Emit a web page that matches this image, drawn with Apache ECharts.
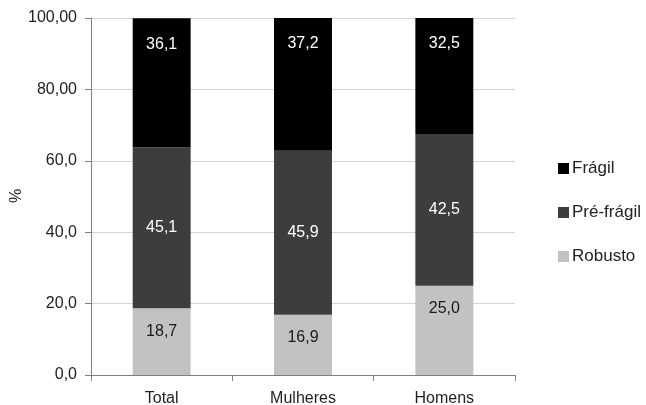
<!DOCTYPE html>
<html>
<head>
<meta charset="utf-8">
<script src="https://cdn.jsdelivr.net/npm/echarts@6/dist/echarts.min.js"></script>
<style>
  html, body { margin: 0; padding: 0; background: #fff; }
  #main { width: 646px; height: 405px; }
</style>
</head>
<body>
<div id="main"></div>
<script>
// dados do gráfico
var categories = ['Total', 'Mulheres', 'Homens'];
var robusto = [18.7, 16.9, 25.0];
var preFragil = [45.1, 45.9, 42.5];
var fragil = [36.1, 37.2, 32.5];
var yTickLabels = ['0,0', '20,0', '40,0', '60,0', '80,00', '100,00'];

var font = '"Liberation Sans", Arial, sans-serif';

function fmt(v) {
  return v.toFixed(1).replace('.', ',');
}

function serie(name, data, color, textColor, pos, dist) {
  return {
    name: name,
    type: 'bar',
    stack: 'total',
    barWidth: '41%',
    data: data,
    itemStyle: { color: color },
    label: {
      show: true,
      position: pos,
      distance: dist,
      color: textColor,
      fontFamily: font,
      fontSize: 16,
      formatter: function (p) { return fmt(p.value); }
    }
  };
}

var chart = echarts.init(document.getElementById('main'));
chart.setOption({
  animation: false,
  textStyle: { fontFamily: font },
  grid: { left: 91, right: 131, top: 18, bottom: 30, outerBoundsMode: 'none' },
  // título do eixo y (%)
  graphic: [{
    type: 'text',
    x: 17,
    y: 196,
    rotation: Math.PI / 2,
    style: {
      text: '%',
      fontSize: 16,
      fontFamily: font,
      fill: '#222',
      align: 'center',
      verticalAlign: 'middle'
    }
  }],
  legend: {
    orient: 'vertical',
    left: 553,
    top: 155,
    itemWidth: 11,
    itemHeight: 11,
    itemGap: 27,
    icon: 'rect',
    data: ['Frágil', 'Pré-frágil', 'Robusto'],
    textStyle: { fontSize: 17, color: '#222', fontFamily: font, padding: [0, 0, 0, -2] }
  },
  xAxis: {
    type: 'category',
    data: categories,
    axisLine: { lineStyle: { color: '#808080' } },
    axisTick: { show: true, length: 6, lineStyle: { color: '#808080' } },
    axisLabel: { fontSize: 16, color: '#222', margin: 16, fontFamily: font }
  },
  yAxis: {
    type: 'value',
    min: 0,
    max: 100,
    interval: 20,
    axisLine: { show: true, lineStyle: { color: '#808080' } },
    axisTick: { show: true, length: 6, lineStyle: { color: '#808080' } },
    splitLine: { lineStyle: { color: '#d4d4d4' } },
    axisLabel: {
      fontSize: 16,
      color: '#222',
      margin: 14,
      fontFamily: font,
      formatter: function (v) { return yTickLabels[Math.round(v / 20)]; }
    }
  },
  series: [
    serie('Robusto', robusto, '#c2c2c2', '#1a1a1a', 'insideTop', 15),
    serie('Pré-frágil', preFragil, '#3d3d3d', '#ffffff', 'inside', 0),
    serie('Frágil', fragil, '#000000', '#ffffff', 'insideTop', 18)
  ]
});
</script>
</body>
</html>
